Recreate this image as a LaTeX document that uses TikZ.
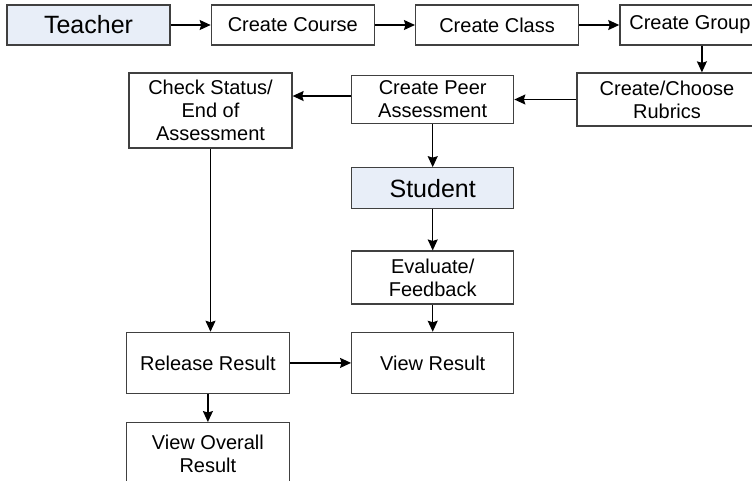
\documentclass[tikz,border=0pt]{standalone}
\usepackage{fontspec}
\setmainfont{Liberation Sans}
\usetikzlibrary{positioning,arrows.meta}
\definecolor{rolefill}{RGB}{232,238,248}

\begin{document}
\begin{tikzpicture}[x=1pt, y=-1pt, node distance=40pt,
  box/.style={draw=black!75, line width=1.3pt, minimum width=163pt, minimum height=40pt, inner sep=0pt, align=center, font=\fontsize{20}{23}\selectfont},
  role/.style={box, fill=rolefill, font=\fontsize{25}{28}\selectfont},
  flow/.style={arrows=-{Stealth[length=11pt,width=10pt,inset=1.5pt]}, line width=1.3pt}]
\useasboundingbox (0,0) rectangle (752,480);
\clip (0,0) rectangle (752,480);
% teacher side
\node (teacher) [role] at (88.5,25) {Teacher};
\node (course) [box, right=of teacher] {Create Course};
\node (class) [box, right=of course] {Create Class};
\node (group) [box, minimum width=140pt, right=of class] {Create Group};
\node (rubrics) [box, minimum width=180pt, minimum height=53pt] at (667,99.5) {Create/Choose\\Rubrics};
\node (peer) [box, minimum width=162pt, minimum height=48pt, left=62pt of rubrics] {Create Peer\\Assessment};
\node (check) [box, minimum height=75pt] at (210.5,110.5) {Check Status/\\End of\\Assessment};
% student side
\node (student) [role, minimum width=162pt, minimum height=41pt, below=43pt of peer] {Student};
\node (evaluate) [box, minimum width=162pt, minimum height=53pt, below=41pt of student] {Evaluate/\\Feedback};
\node (view) [box, minimum width=162pt, minimum height=61pt, below=27pt of evaluate] {View Result};
\node (release) [box, minimum height=61pt, left=61pt of view] {Release Result};
\node (overall) [box, minimum height=63pt, below=28pt of release] {View Overall\\Result};
\draw[flow] (teacher) -- (course);
\draw[flow] (course) -- (class);
\draw[flow] (class) -- (group);
\draw[flow] ([xshift=12pt]group.south) -- ([xshift=12pt]group.south |- rubrics.north);
\draw[flow] (rubrics) -- (peer);
\draw[flow] ([yshift=3.5pt]peer.west) -- ([yshift=3.5pt]peer.west -| check.east);
\draw[flow] (peer) -- (student);
\draw[flow] (student) -- (evaluate);
\draw[flow] (evaluate) -- (view);
\draw[flow] (check) -- (check |- release.north);
\draw[flow] (release) -- (view);
\draw[flow] (release) -- (release |- overall.north);
\end{tikzpicture}
\end{document}
